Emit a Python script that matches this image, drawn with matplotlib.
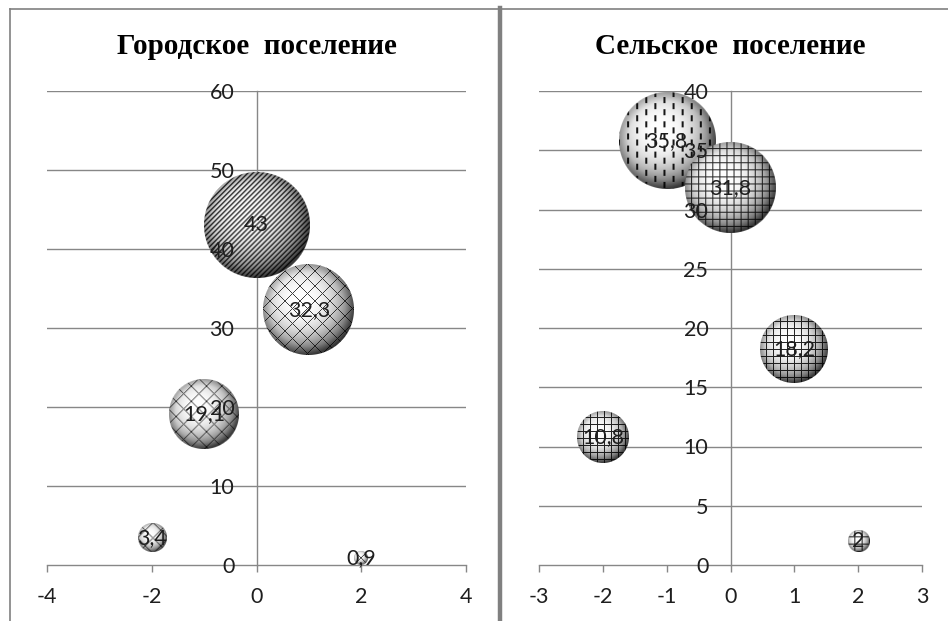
import numpy as np
import matplotlib
matplotlib.use("Agg")
import matplotlib.pyplot as plt
from matplotlib.lines import Line2D

W, H, DPI = 948, 621, 100

# данные: городское поселение
x_gor = [-2, -1, 0, 1, 2]
y_gor = [3.4, 19.1, 43, 32.3, 0.9]
pat_gor = ["diamond", "diamond", "diag", "diamond", "diamond"]
xt_gor = [-4, -2, 0, 2, 4]
yt_gor = [0, 10, 20, 30, 40, 50, 60]

# данные: сельское поселение
x_sel = [-2, -1, 0, 1, 2]
y_sel = [10.8, 35.8, 31.8, 18.2, 2]
pat_sel = ["grid", "vdash", "grid", "grid", "grid"]
xt_sel = [-3, -2, -1, 0, 1, 2, 3]
yt_sel = [0, 5, 10, 15, 20, 25, 30, 35, 40]

GRAY = "#878787"
TXT = "#1e1e1e"
FONT = "Lato"


def textura(nome, n):
    # узор штриховки в пикселях
    i, j = np.mgrid[0:n, 0:n]
    if nome == "diag":
        return ((i + j) % 5 < 2).astype(float) * 0.8
    if nome == "diamond":
        return (((i + j) % 15 == 0) | ((i - j) % 15 == 0)).astype(float) * 0.75
    if nome == "grid":
        return ((i % 7 == 0) | (j % 7 == 0)).astype(float) * 0.85
    if nome == "vdash":
        col = j // 9
        off = (col % 2) * 6
        return (((j % 9) < 2) & (((i + off) % 12) < 6)).astype(float) * 0.9
    return np.zeros((n, n))


def bolha(ax, xc, yc, d, nome, xr, yr, wpx, hpx):
    n = max(int(round(d)), 4)
    v, u = np.mgrid[1:-1:n * 1j, -1:1:n * 1j]
    r = np.sqrt(u ** 2 + v ** 2)
    r2 = np.sqrt((u + 0.15) ** 2 + (v - 0.2) ** 2)
    sombra = np.clip(1.0 - 0.75 * (r2 / 1.2) ** 2.6, 0.25, 1.0)
    sombra = sombra * (1 - 0.2 * np.clip(r - 0.8, 0, 1) / 0.2)
    val = sombra * (1 - textura(nome, n))
    alfa = np.clip((1 - r) * n / 2.0, 0, 1)
    img = np.dstack([val, val, val, alfa])
    dx = d / 2 * xr / wpx
    dy = d / 2 * yr / hpx
    ax.imshow(img, extent=[xc - dx, xc + dx, yc - dy, yc + dy], aspect="auto",
              interpolation="bilinear", zorder=1)


def painel(rect, xs, ys, pats, xticks, yticks, titulo, pad_y):
    ax = fig.add_axes(rect)
    xr = xticks[-1] - xticks[0]
    yr = yticks[-1] - yticks[0]
    wpx = rect[2] * W
    hpx = rect[3] * H
    dmax = 0.256 * min(wpx, hpx)
    vmax = max(ys)
    for yv in yticks[1:]:
        ax.axhline(yv, color=GRAY, lw=1.0, zorder=0.2)
    for xv, yv, p in zip(xs, ys, pats):
        d = dmax * np.sqrt(yv / vmax)
        bolha(ax, xv, yv, d, p, xr, yr, wpx, hpx)
        ax.text(xv, yv, f"{yv:g}".replace(".", ","), ha="center", va="center",
                fontsize=15.5, family=FONT, color=TXT, zorder=5)
    ax.set_xlim(xticks[0], xticks[-1])
    ax.set_ylim(yticks[0], yticks[-1])
    ax.set_xticks(xticks)
    ax.set_yticks(yticks)
    ax.set_xticklabels([str(t) for t in xticks])
    ax.set_yticklabels([str(t) for t in yticks])
    ax.spines["left"].set_position(("data", 0))
    for s in ["top", "right"]:
        ax.spines[s].set_visible(False)
    for s in ["left", "bottom"]:
        ax.spines[s].set_color(GRAY)
        ax.spines[s].set_linewidth(1.0)
        ax.spines[s].set_zorder(0.3)
    ax.tick_params(axis="y", length=0, pad=pad_y, labelsize=15.5, labelcolor=TXT)
    ax.tick_params(axis="x", direction="out", length=5, width=1.0, color=GRAY,
                   pad=11, labelsize=15.5, labelcolor=TXT)
    for lb in ax.get_xticklabels() + ax.get_yticklabels():
        lb.set_fontfamily(FONT)
    ax.patch.set_alpha(0)
    ax.text(0.5, 1.078, titulo, transform=ax.transAxes, ha="center", va="baseline",
            fontsize=21, fontweight="bold", family="Liberation Serif", color="black")
    return ax


fig = plt.figure(figsize=(W / DPI, H / DPI), dpi=DPI)
fig.patch.set_facecolor("white")

painel([47 / W, (H - 565) / H, 419 / W, 474 / H], x_gor, y_gor, pat_gor,
       xt_gor, yt_gor, "Городское  поселение", 16)
painel([539 / W, (H - 565) / H, 383 / W, 474 / H], x_sel, y_sel, pat_sel,
       xt_sel, yt_sel, "Сельское  поселение", 16)

# рамки диаграмм
def linha(x0, y0, x1, y1, lw):
    fig.add_artist(Line2D([x0 / W, x1 / W], [1 - y0 / H, 1 - y1 / H],
                          color="#808080", lw=lw, transform=fig.transFigure))

linha(9.5, 9, 498, 9, 1.2)
linha(9.5, 9, 9.5, H, 1.2)
linha(500.5, 8.5, W, 8.5, 1.2)
linha(500, 8, 500, H, 3.2)

fig.savefig("out.png", dpi=DPI)
